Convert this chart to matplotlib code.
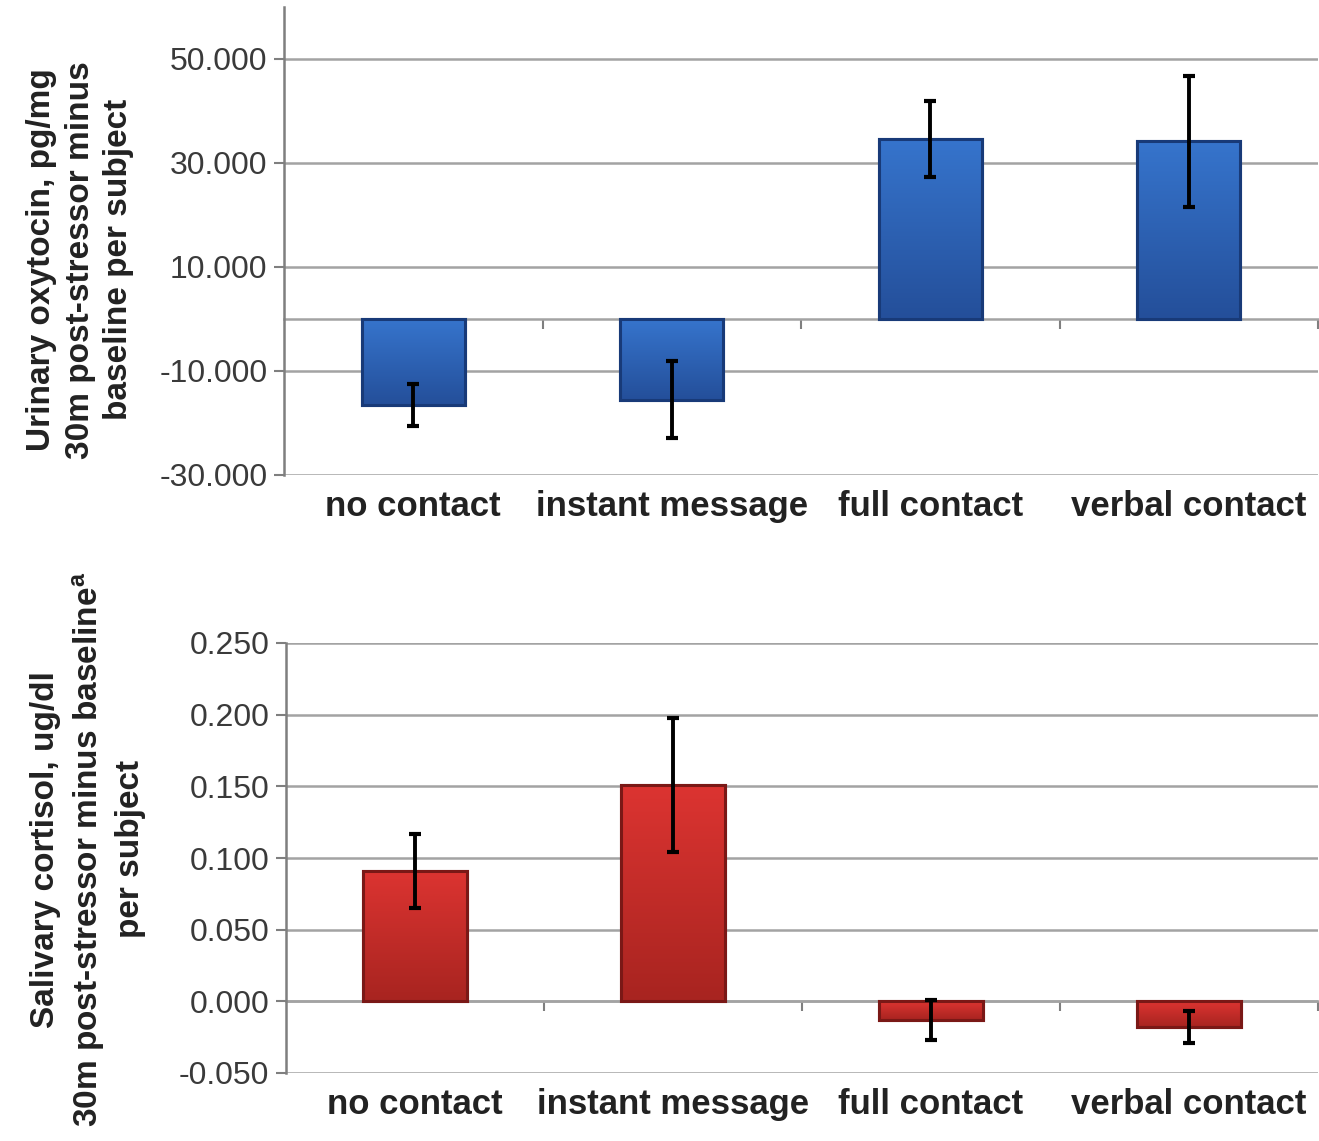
import numpy as np
import matplotlib
matplotlib.use("Agg")
import matplotlib.pyplot as plt
from matplotlib.ticker import FuncFormatter
from matplotlib.colors import LinearSegmentedColormap

# ---------------- data ----------------
categories = ["no contact", "instant message", "full contact", "verbal contact"]
oxytocin = [-16.5, -15.5, 34.6, 34.2]
oxytocin_err = [4.0, 7.4, 7.3, 12.6]
cortisol = [0.091, 0.151, -0.013, -0.018]
cortisol_err = [0.026, 0.047, 0.014, 0.011]
oxy_ticks = [-30, -10, 10, 30, 50]
cort_ticks = [-0.05, 0.0, 0.05, 0.10, 0.15, 0.20, 0.25]
oxy_ylabel = "Urinary oxytocin, pg/mg\n30m post-stressor minus\nbaseline per subject"
cort_ylabel = "Salivary cortisol, ug/dl\n30m post-stressor minus baseline$^{\\mathregular{a}}$\nper subject"

plt.rcParams['font.family'] = ['Liberation Sans', 'DejaVu Sans']
plt.rcParams['mathtext.default'] = 'regular'

W, H = 1319, 1141
fig = plt.figure(figsize=(W / 100, H / 100), dpi=100)

GRID = "#a3a3a3"
SPINE = "#7f7f7f"


def gradient_bars(ax, bars, top_col, bot_col):
    cmap = LinearSegmentedColormap.from_list("g", [bot_col, top_col])
    grad = np.linspace(0, 1, 64).reshape(-1, 1)
    for b in bars:
        x0, y0 = b.get_x(), b.get_y()
        w, h = b.get_width(), b.get_height()
        ylo, yhi = min(y0, y0 + h), max(y0, y0 + h)
        im = ax.imshow(grad, cmap=cmap, aspect="auto", origin="lower",
                       extent=(x0, x0 + w, ylo, yhi), zorder=2.5,
                       interpolation="bilinear")
        im.set_clip_path(b)


def make_panel(rect, vals, errs, ticks, ylim, ylabel, face, edge, top_col, bot_col,
               label_xy):
    ax = fig.add_axes(rect)
    x = np.arange(len(categories))
    bars = ax.bar(x, vals, width=0.4, color=face, edgecolor=edge, linewidth=2.2,
                  zorder=2)
    ax.set_xlim(-0.5, len(categories) - 0.5)
    ax.set_ylim(*ylim)
    gradient_bars(ax, bars, top_col, bot_col)
    for b in bars:
        r = plt.Rectangle((b.get_x(), b.get_y()), b.get_width(), b.get_height(),
                          fill=False, edgecolor=edge, linewidth=2.2, zorder=2.6)
        ax.add_patch(r)
    ax.errorbar(x, vals, yerr=errs, fmt="none", ecolor="black", elinewidth=2.8,
                capsize=4, capthick=3, zorder=3)

    ax.set_yticks(ticks)
    ax.yaxis.set_major_formatter(FuncFormatter(lambda v, p: "{:.3f}".format(v)))
    ax.yaxis.grid(True, color=GRID, linewidth=1.8)
    ax.set_axisbelow(True)
    ax.tick_params(axis="y", length=7, width=1.5, color=SPINE, labelsize=23,
                   labelcolor="#3a3a3a", pad=5)
    ax.set_xticks(x)
    ax.set_xticklabels(categories, fontsize=25, fontweight="bold", color="#222222")
    ax.tick_params(axis="x", length=0, pad=11)

    for s in ["top", "right", "bottom"]:
        ax.spines[s].set_visible(False)
    ax.spines["left"].set_color(SPINE)
    ax.spines["left"].set_linewidth(1.8)

    zero_frac = (0 - ylim[0]) / (ylim[1] - ylim[0])
    sec = ax.secondary_xaxis(zero_frac)
    sec.set_xticks(np.arange(len(categories)) + 0.5)
    sec.set_xticklabels([""] * len(categories))
    sec.tick_params(axis="x", length=7, width=1.5, color=SPINE, direction="out")
    sec.spines["bottom"].set_color(GRID)
    sec.spines["bottom"].set_linewidth(1.8)

    ax.set_ylabel(ylabel, fontsize=24, fontweight="bold", color="#222222",
                  linespacing=1.32, ha="center", va="center")
    ax.yaxis.set_label_coords(*label_xy)
    return ax


make_panel([284 / W, 1 - 475 / H, (1318 - 284) / W, (475 - 7) / H],
           oxytocin, oxytocin_err, oxy_ticks, (-30, 60), oxy_ylabel,
           "#2c63b8", "#183a78", "#3674cc", "#244f9a", (-0.197, 0.46))

make_panel([286 / W, 1 - 1073 / H, (1318 - 286) / W, (1073 - 643) / H],
           cortisol, cortisol_err, cort_ticks, (-0.05, 0.25), cort_ylabel,
           "#cc2b29", "#7a1816", "#dc3431", "#a82420", (-0.192, 0.52))

fig.savefig("out.png", dpi=100, facecolor="white")
